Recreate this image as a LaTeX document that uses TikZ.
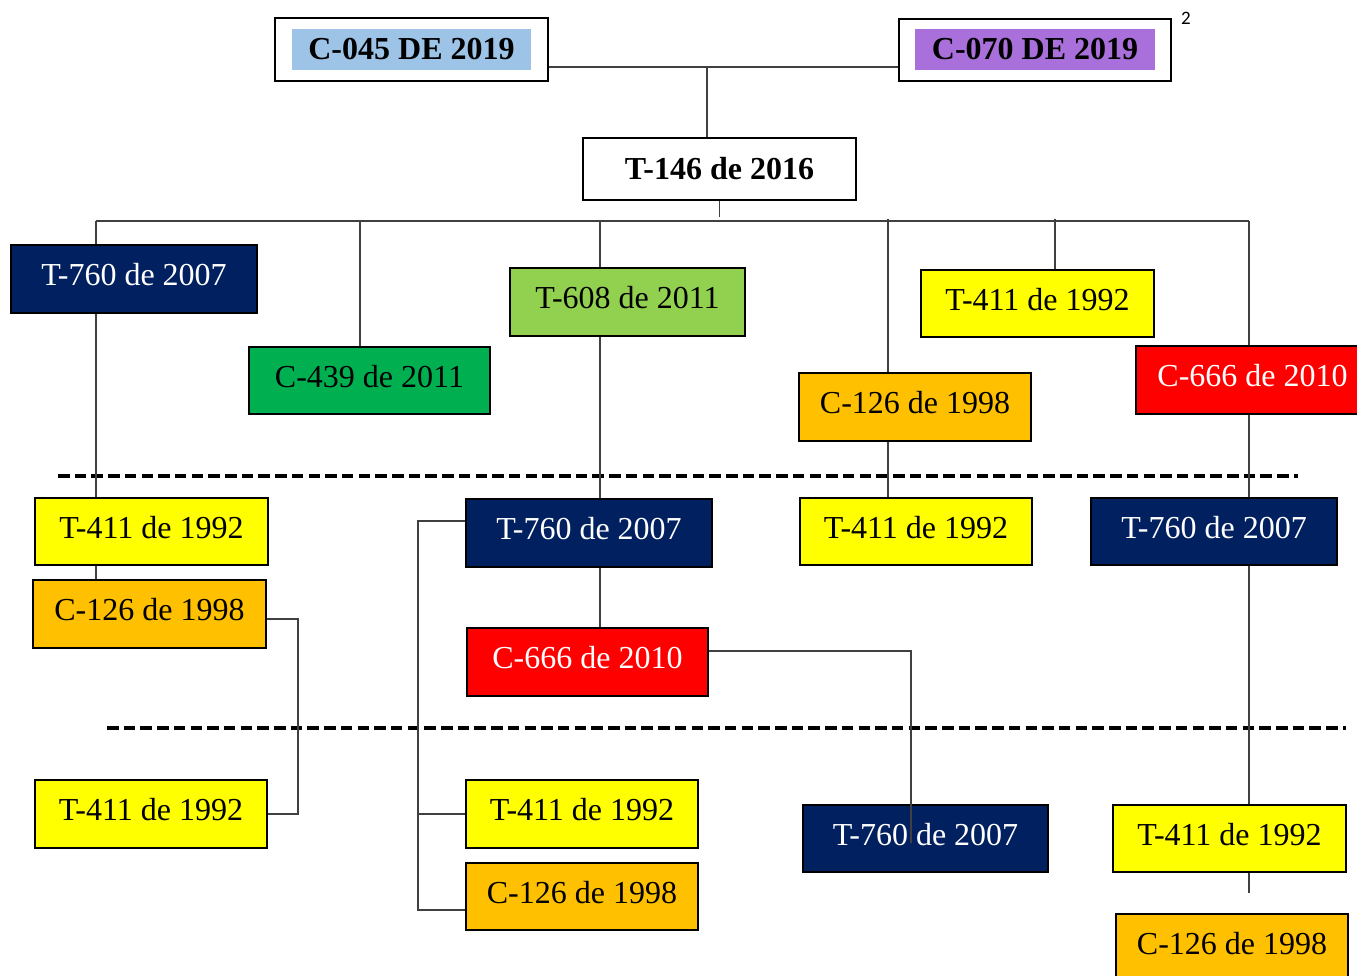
\documentclass[tikz,border=0pt]{standalone}
\usepackage{fontspec}
\setmainfont{Liberation Serif}
\newfontfamily\notefont{Carlito}
\definecolor{cnavy}{HTML}{002060}
\definecolor{cgreen}{HTML}{00B050}
\definecolor{clgreen}{HTML}{92D050}
\definecolor{cyellow}{HTML}{FFFF00}
\definecolor{corange}{HTML}{FFC000}
\definecolor{cred}{HTML}{FF0000}
\definecolor{cblue}{HTML}{9DC3E6}
\definecolor{cpurple}{HTML}{A970DB}
\definecolor{cline}{HTML}{404040}
\tikzset{
  bx/.style 2 args={rectangle, draw=black, line width=2pt, inner sep=0pt,
    minimum width=#1, minimum height=#2,
    font=\fontsize{32}{38}\selectfont, text height=22pt, text depth=8.8pt},
  outerbx/.style 2 args={rectangle, draw=black, line width=2pt, fill=white, inner sep=0pt,
    minimum width=#1, minimum height=#2},
  innerbx/.style 2 args={rectangle, inner sep=0pt, minimum width=#1, minimum height=#2,
    font=\fontsize{32}{38}\selectfont\bfseries, text height=22pt, text depth=1.8pt},
  navybx/.style={fill=cnavy, text=white},
  greenbx/.style={fill=cgreen, text=black},
  lgreenbx/.style={fill=clgreen, text=black},
  yellowbx/.style={fill=cyellow, text=black},
  orangebx/.style={fill=corange, text=black},
  redbx/.style={fill=cred, text=white},
  conn/.style={draw=cline, line width=1.3pt},
  sepline/.style={draw=black, line width=4pt, dash pattern=on 11.5pt off 5.2pt},
}
\begin{document}
\begin{tikzpicture}[x=1pt,y=-1pt]
\useasboundingbox (0,0) rectangle (1357,975);
\begin{scope}
\clip (0,0) rectangle (1357,975);
% separators
\coordinate (s1a) at (58,476); \coordinate (s1b) at (1298,476);
\coordinate (s2a) at (107,728); \coordinate (s2b) at (1346,728);
\draw[sepline] (s1a) -- (s1b);
\draw[sepline] (s2a) -- (s2b);

% top
\node[outerbx={273pt}{63pt}] (o45) at (411.5,49.5) {};
\node[innerbx={239pt}{41pt}, fill=cblue] (i45) at (411.5,49.5) {C-045 DE 2019};
\node[outerbx={272pt}{62pt}] (o70) at (1035,50) {};
\node[innerbx={240pt}{41pt}, fill=cpurple] (i70) at (1035,49.5) {C-070 DE 2019};
\node[font=\notefont\fontsize{19}{22}\selectfont, inner sep=0pt] (fn) at (1186,18) {2};
\node[outerbx={273pt}{62pt}, font=\fontsize{32}{38}\selectfont\bfseries, text height=22pt, text depth=1.8pt] (t146) at (719.5,169) {T-146 de 2016};

\coordinate (j0) at (707,67);
\draw[conn] (o45.east |- j0) -- (o70.west |- j0);
\draw[conn] (j0) -- (j0 |- t146.north);
\draw[conn] (t146.south) -- ++(0,16);

% bus
\coordinate (busL) at (96,221);
\coordinate (busR) at (1249,221);
\coordinate (d2) at (360,221);
\coordinate (d3) at (600,221);
\coordinate (d4) at (888,219);
\coordinate (d5) at (1055,219);
\draw[conn] (busL) -- (busR);

% row 1
\node[bx={246pt}{68pt}, navybx] (a1) at (134,279) {T-760 de 2007};
\node[bx={241pt}{67pt}, greenbx] (a2) at (369.5,380.5) {C-439 de 2011};
\node[bx={235pt}{68pt}, lgreenbx] (a3) at (627.5,302) {T-608 de 2011};
\node[bx={232pt}{68pt}, orangebx] (a4) at (915,407) {C-126 de 1998};
\node[bx={233pt}{67pt}, yellowbx] (a5) at (1037.5,303.5) {T-411 de 1992};
\node[bx={233pt}{68pt}, redbx] (a6) at (1252.5,380) {C-666 de 2010};

% row 2
\node[bx={233pt}{67pt}, yellowbx] (b1) at (151.5,531.5) {T-411 de 1992};
\node[bx={233pt}{68pt}, orangebx] (b2) at (149.5,614) {C-126 de 1998};
\node[bx={246pt}{68pt}, navybx] (b3) at (589,533) {T-760 de 2007};
\node[bx={241pt}{68pt}, redbx] (b4) at (587.5,662) {C-666 de 2010};
\node[bx={232pt}{67pt}, yellowbx] (b5) at (916,531.5) {T-411 de 1992};
\node[bx={246pt}{67pt}, navybx] (b6) at (1214,531.5) {T-760 de 2007};

% row 3
\node[bx={232pt}{68pt}, yellowbx] (c1) at (151,814) {T-411 de 1992};
\node[bx={232pt}{68pt}, yellowbx] (c2) at (582,814) {T-411 de 1992};
\node[bx={232pt}{67pt}, orangebx] (c3) at (582,896.5) {C-126 de 1998};
\node[bx={245pt}{67pt}, navybx] (c4) at (925.5,838.5) {T-760 de 2007};
\node[bx={233pt}{67pt}, yellowbx] (c5) at (1229.5,838.5) {T-411 de 1992};
\node[bx={232pt}{68pt}, orangebx] (c6) at (1232,948) {C-126 de 1998};

% drops from bus
\draw[conn] (busL) -- (busL |- a1.north);
\draw[conn] (a1.south -| busL) -- (b1.north -| busL);
\draw[conn] (d2) -- (d2 |- a2.north);
\draw[conn] (d3) -- (d3 |- a3.north);
\draw[conn] (a3.south -| d3) -- (b3.north -| d3);
\draw[conn] (d4) -- (d4 |- a4.north);
\draw[conn] (a4.south -| d4) -- (b5.north -| d4);
\draw[conn] (d5) -- (d5 |- a5.north);
\draw[conn] (busR) -- (busR |- a6.north);
\draw[conn] (a6.south -| busR) -- (b6.north -| busR);
\draw[conn] (b6.south -| busR) -- (c5.north -| busR);
\draw[conn] (c5.south -| busR) -- ++(0,20);

% lower connectors
\draw[conn] (b1.south -| busL) -- (b2.north -| busL);
\coordinate (e1) at (298,619);
\draw[conn] (b2.east |- e1) -- (e1) -- (e1 |- c1.east) -- (c1.east);
\coordinate (f1) at (418,521);
\coordinate (f2) at (418,910);
\draw[conn] (b3.west |- f1) -- (f1) -- (f2) -- (f2 -| c3.west);
\draw[conn] (f1 |- c2.west) -- (c2.west);
\draw[conn] (b3.south -| d3) -- (b4.north -| d3);
\coordinate (g1) at (911,651);
\coordinate (g2) at (911,843);
\draw[conn] (b4.east |- g1) -- (g1) -- (g2);
\end{scope}
\end{tikzpicture}
\end{document}
